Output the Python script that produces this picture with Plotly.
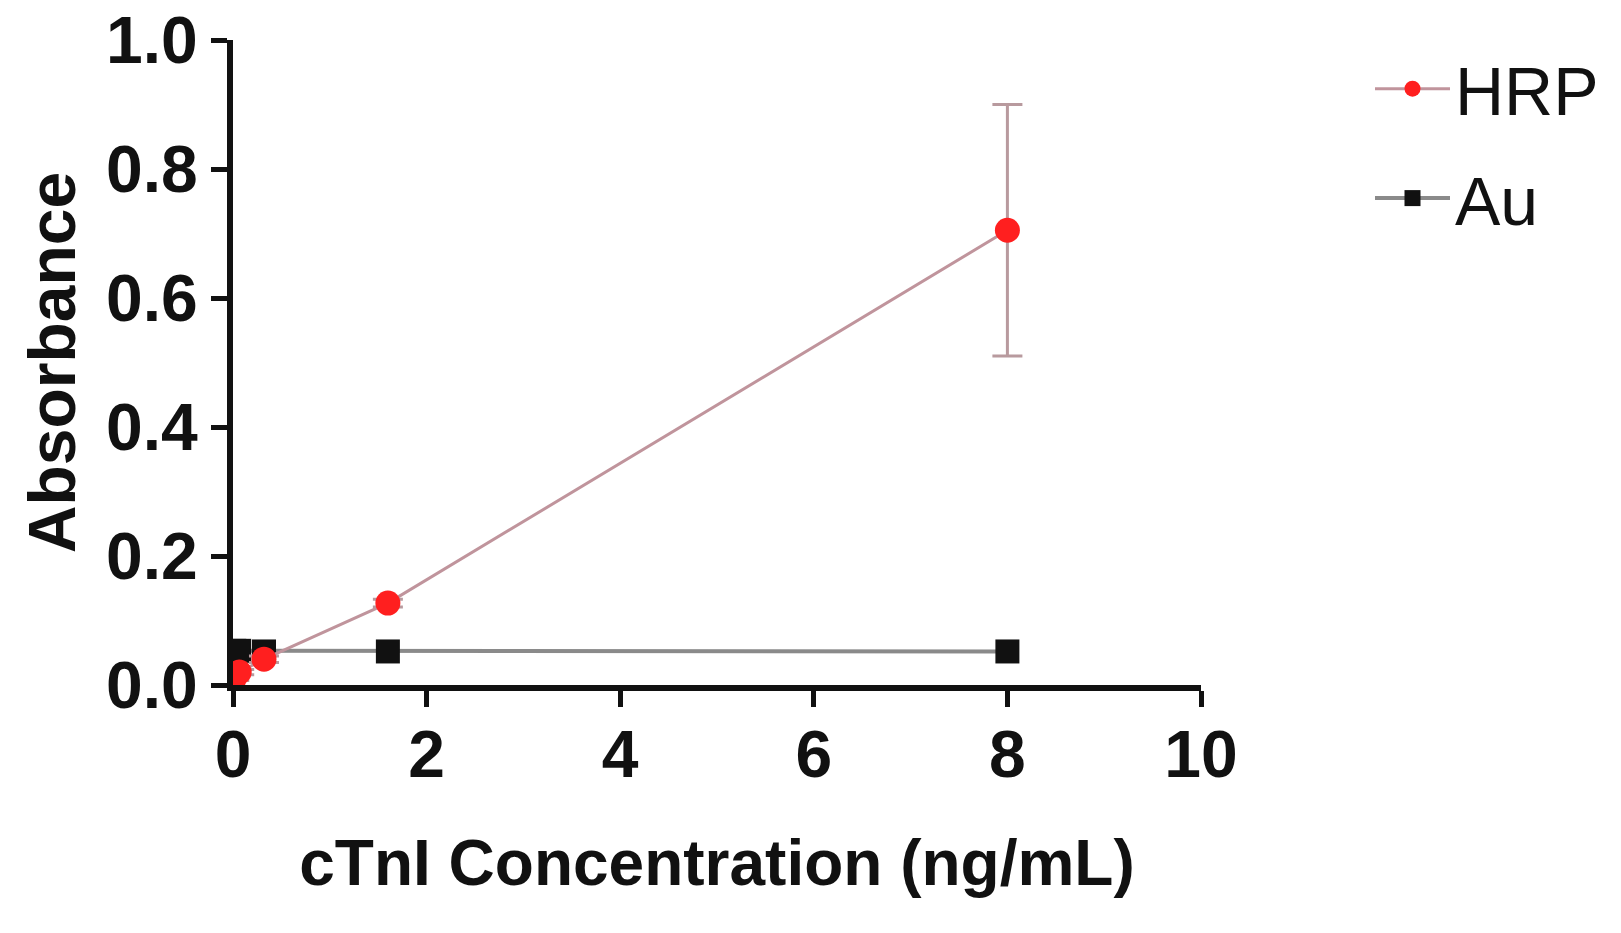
import plotly.graph_objects as go

conc = [0.0128, 0.064, 0.32, 1.6, 8]
hrp = [0.010, 0.020, 0.040, 0.127, 0.705]
hrp_err = [0.003, 0.004, 0.005, 0.006, 0.195]
au = [0.053, 0.053, 0.052, 0.052, 0.052]

FONT = "Liberation Sans, Arial, sans-serif"

fig = go.Figure()
fig.add_trace(go.Scatter(
    x=conc, y=au, name="Au", mode="lines+markers",
    line=dict(color="#8a8a8a", width=4),
    marker=dict(symbol="square", size=24, color="#111111"),
    legendrank=2, legendgroup="au",
))
fig.add_trace(go.Scatter(
    x=conc, y=hrp, name="HRP", mode="lines+markers",
    line=dict(color="#c0949c", width=3),
    marker=dict(symbol="circle", size=25, color="#ff1f1f"),
    error_y=dict(type="data", array=hrp_err, visible=True, color="#b89a9e", thickness=3, width=15),
    legendrank=1, legendgroup="hrp",
))

axis_common = dict(
    showgrid=False, zeroline=False, showline=True, linecolor="#111111", linewidth=6,
    ticks="outside", tickwidth=5, tickcolor="#111111", automargin=False,
    ticklabeloverflow="allow",
    tickfont=dict(family=FONT, size=66, color="#111111", weight="bold"),
)

fig.update_xaxes(range=[0, 10], tickvals=[0, 2, 4, 6, 8, 10], ticklen=16, ticklabelstandoff=-9,
                 title=dict(text="cTnI Concentration (ng/mL)", standoff=52,
                            font=dict(family=FONT, size=64, color="#111111", weight="bold")),
                 **axis_common)
fig.update_yaxes(range=[0, 1.0], tickvals=[0, 0.2, 0.4, 0.6, 0.8, 1.0], tickformat=".1f", ticklen=16,
                 title=dict(text="Absorbance", standoff=11,
                            font=dict(family=FONT, size=66, color="#111111", weight="bold")),
                 **axis_common)

fig.update_layout(
    width=1621, height=933,
    margin=dict(l=225, r=428, t=32, b=256),
    plot_bgcolor="white", paper_bgcolor="white",
    font=dict(family=FONT, color="#111111"),
    legend=dict(xref="container", yref="container", x=1362/1621, y=1 - 30/933,
                xanchor="left", yanchor="top", itemwidth=75,
                traceorder="grouped", tracegroupgap=18,
                font=dict(family=FONT, size=68, color="#111111"),
                bgcolor="rgba(0,0,0,0)"),
)

fig.write_html("out.html")
